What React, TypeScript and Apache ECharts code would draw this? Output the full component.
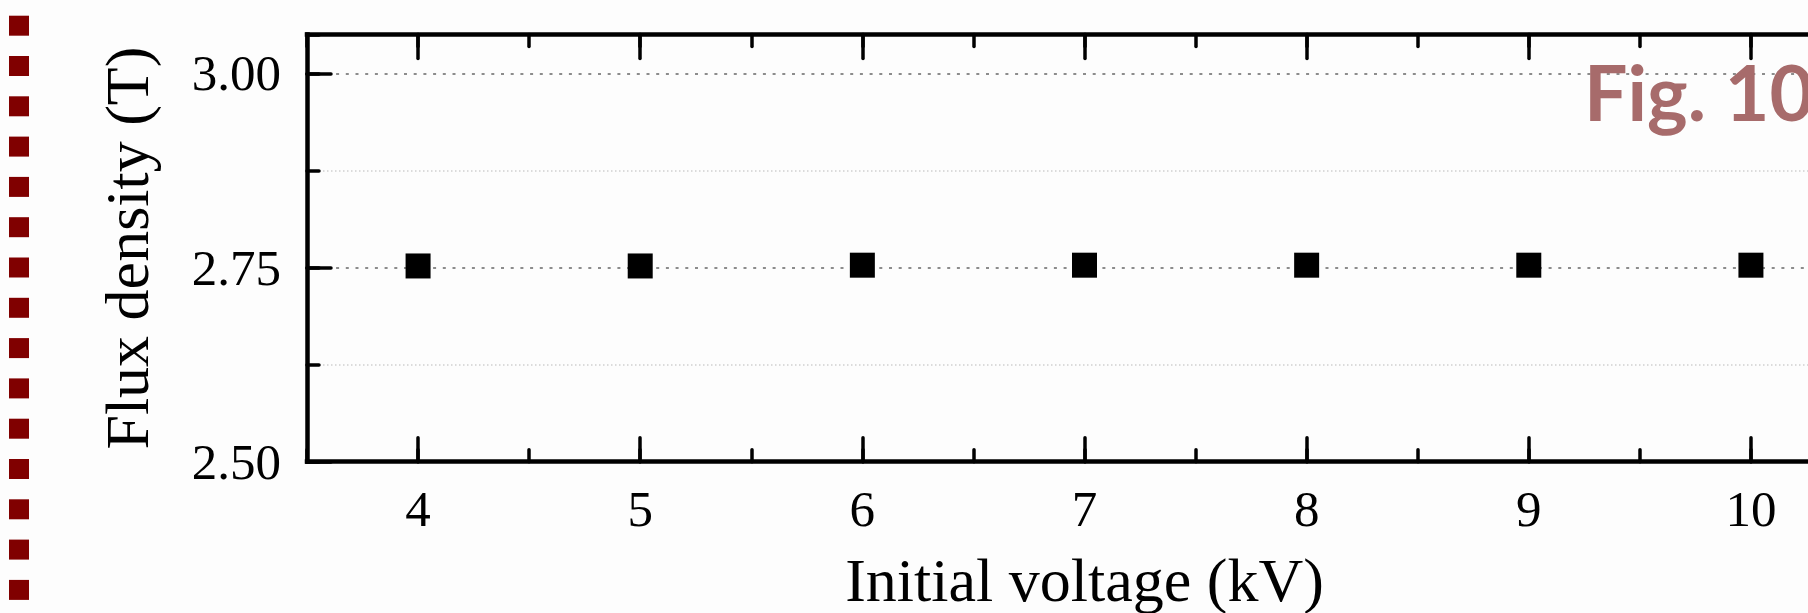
import React, { useEffect, useRef } from "react";
import * as echarts from "echarts";

// ---- data ----
const xValues = [4, 5, 6, 7, 8, 9, 10];
const fluxDensity = [2.752, 2.752, 2.753, 2.753, 2.753, 2.753, 2.753];
const xMajorTicks = [4, 5, 6, 7, 8, 9, 10];
const yMajorTicks = [2.5, 2.75, 3.0];
const xRange = [3.5, 10.5];
const yRange = [2.5, 3.05];
const xTitle = "Initial voltage (kV)";
const yTitle = "Flux density (T)";
const figLabel = "Fig. 10";

const serif = '"Times New Roman", "Liberation Serif", serif';

export default function App() {
  const ref = useRef<HTMLDivElement>(null);

  useEffect(() => {
    if (!ref.current) return;
    const chart = echarts.init(ref.current, null, { renderer: "svg" });
    const black = "#000";
    const tickStyle = { color: black, width: 3.5, cap: "round" };
    const axisLineStyle = { color: black, width: 4.5, cap: "square" };

    const squares = Array.from({ length: 15 }, (_, k) => ({
      type: "rect",
      silent: true,
      shape: { x: 9, y: 15.7 + 40.3 * k, width: 20, height: 20 },
      style: { fill: "#800000" },
    }));

    const baseX = {
      type: "value",
      min: xRange[0],
      max: xRange[1],
      splitLine: { show: false },
    };
    const baseY = {
      type: "value",
      min: yRange[0],
      max: yRange[1],
    };

    chart.setOption({
      animation: false,
      backgroundColor: "#fdfdfd",
      grid: {
        left: 307,
        right: -54,
        top: 34.5,
        bottom: 151.3,
        containLabel: false,
        outerBoundsMode: "none",
      },
      xAxis: [
        {
          ...baseX,
          position: "bottom",
          interval: 0.5,
          axisLine: { show: true, lineStyle: axisLineStyle },
          axisTick: { show: true, inside: true, length: 12, lineStyle: tickStyle },
          axisLabel: {
            show: true,
            customValues: xMajorTicks,
            margin: 22,
            fontSize: 51,
            fontFamily: serif,
            color: black,
            formatter: (v: number) => String(v),
          },
          name: xTitle,
          nameLocation: "middle",
          nameGap: 87,
          nameTextStyle: { fontSize: 62, fontFamily: serif, color: black },
        },
        {
          ...baseX,
          position: "bottom",
          axisLine: { show: false },
          axisTick: { show: true, inside: true, customValues: xMajorTicks, length: 24, lineStyle: tickStyle },
          axisLabel: { show: false },
        },
        {
          ...baseX,
          position: "top",
          interval: 0.5,
          axisLine: { show: true, lineStyle: axisLineStyle },
          axisTick: { show: true, inside: true, length: 12, lineStyle: tickStyle },
          axisLabel: { show: false },
        },
        {
          ...baseX,
          position: "top",
          axisLine: { show: false },
          axisTick: { show: true, inside: true, customValues: xMajorTicks, length: 24, lineStyle: tickStyle },
          axisLabel: { show: false },
        },
      ],
      yAxis: [
        {
          ...baseY,
          position: "left",
          interval: 0.25,
          axisLine: { show: true, lineStyle: axisLineStyle },
          axisTick: { show: true, inside: true, customValues: yMajorTicks, length: 24, lineStyle: tickStyle },
          axisLabel: {
            show: true,
            customValues: yMajorTicks,
            margin: 26,
            fontSize: 51,
            fontFamily: serif,
            color: black,
            formatter: (v: number) => v.toFixed(2),
          },
          splitLine: {
            show: true,
            lineStyle: { color: "#8c8c8c", width: 2, type: [3, 6.7] },
          },
          name: yTitle,
          nameLocation: "middle",
          nameGap: 149,
          nameTextStyle: { fontSize: 62, fontFamily: serif, color: black },
        },
        {
          ...baseY,
          position: "left",
          interval: 0.125,
          axisLine: { show: false },
          axisTick: { show: true, inside: true, length: 12, lineStyle: tickStyle },
          axisLabel: { show: false },
          splitLine: {
            show: true,
            lineStyle: { color: ["rgba(0,0,0,0)", "#cfcfcf"], width: 1.5, type: [1.5, 2.5] },
          },
        },
      ],
      series: [
        {
          type: "scatter",
          xAxisIndex: 0,
          yAxisIndex: 0,
          symbol: "rect",
          symbolSize: 25,
          itemStyle: { color: black, opacity: 1 },
          data: xValues.map((x, i) => [x, fluxDensity[i]]),
          z: 10,
        },
      ],
      graphic: [
        ...squares,
        {
          type: "text",
          x: 1584,
          y: 91,
          z: 100,
          silent: true,
          style: {
            text: figLabel,
            fontSize: 77,
            fontWeight: "bold",
            fontFamily: "Lato, 'Open Sans', sans-serif",
            fill: "#a76b6b",
            align: "left",
            verticalAlign: "middle",
          },
        },
      ],
    });

    return () => chart.dispose();
  }, []);

  return (
    <div
      ref={ref}
      style={{ position: "fixed", left: 0, top: 0, width: 1808, height: 613 }}
    />
  );
}
